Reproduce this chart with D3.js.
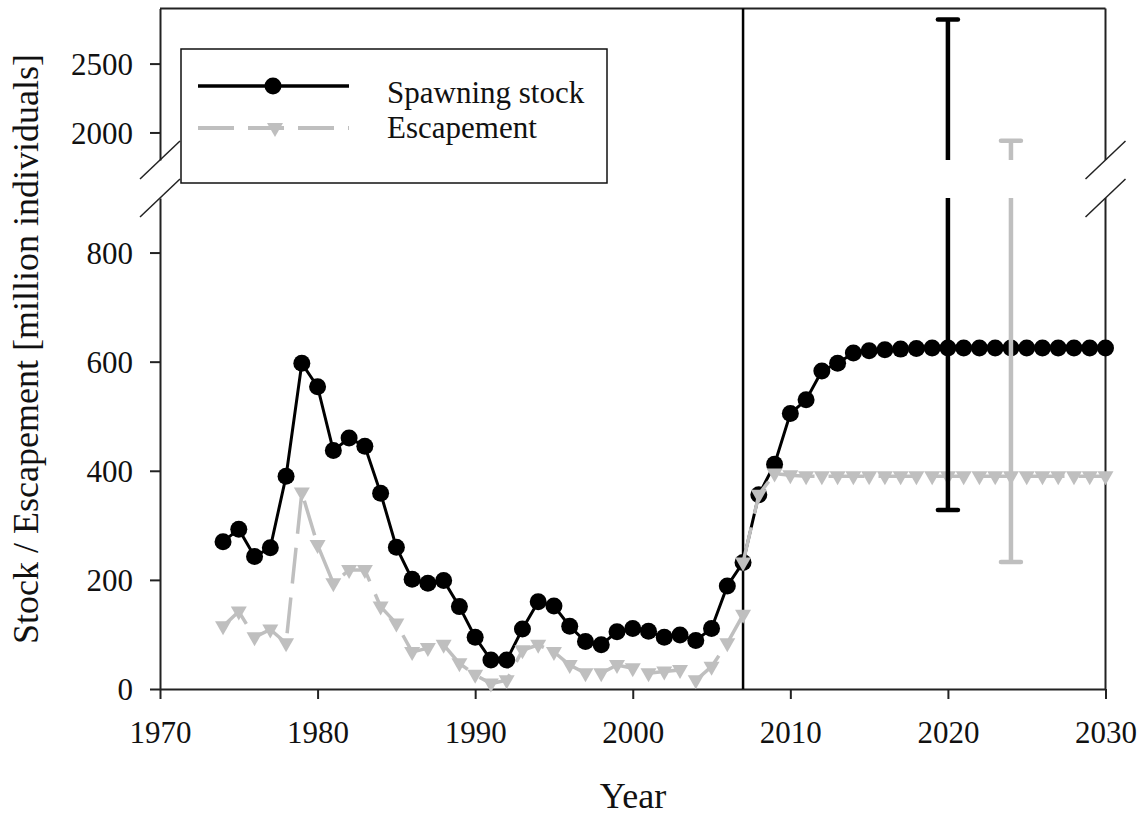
<!DOCTYPE html>
<html>
<head>
<meta charset="utf-8">
<script src="https://cdn.jsdelivr.net/npm/d3@7"></script>
<style>
  body { margin: 0; background: #fff; }
  svg text { font-family: "Liberation Serif", "Times New Roman", serif; fill: #111; }
</style>
</head>
<body>
<svg id="chart"></svg>
<script>
// spawning stock, 1974-2030 (observed up to 2007, projected after)
const stockYears = d3.range(1974, 2031);
const stockValues = [
  270, 293, 243, 259, 390, 597, 554, 437, 460, 445, 359, 260, 201, 194, 199, 151, 95, 53, 53, 110,
  160, 152, 115, 87, 81, 105, 111, 106, 95, 99, 89, 111, 189, 232, 356, 412, 505, 530, 583, 597,
  616, 620, 622, 623, 624, 625, 625, 625, 625, 625, 625, 625, 625, 625, 625, 625, 625
];

// escapement, observed 1974-2007
const escYears = d3.range(1974, 2008);
const escValues = [
  115, 142, 95, 109, 84, 360, 264, 194, 218, 218, 151, 120, 68, 75, 81, 47, 26, 10, 16, 71,
  81, 68, 44, 29, 29, 44, 38, 29, 32, 35, 16, 41, 84, 136
];

// escapement, projection 2007-2030
const escProjYears = d3.range(2007, 2031);
const escProjValues = [
  232, 356, 395, 392, 390, 390, 390, 390, 390, 390, 390, 390, 390, 390, 390, 390, 390, 390, 390, 390,
  390, 390, 390, 390
];

// error bars on the projections
const errYears = [2020, 2024];
const errLow = [328, 233];
const errHigh = [2820, 1940];
const errColors = ["#000", "#bfbfbf"];

const xTicks = [1970, 1980, 1990, 2000, 2010, 2020, 2030];
const yLowTicks = [0, 200, 400, 600, 800];
const yHighTicks = [2000, 2500];
const legendLabels = ["Spawning stock", "Escapement"];

const width = 1148;
const height = 816;
const plotLeft = 160, plotRight = 1105.5, plotTop = 8.5, plotBottom = 689;
const breakLow = 198, breakHigh = 160;
const gray = "#bfbfbf";

const svg = d3.select("#chart").attr("width", width).attr("height", height);

const x = d3.scaleLinear().domain([1970, 2030]).range([plotLeft, plotRight]);
const yLow = d3.scaleLinear().domain([0, 900]).range([plotBottom, breakLow]);
const yHigh = d3.scaleLinear().domain([1800, 2900]).range([breakHigh, plotTop]);

// Axes
const xAxis = svg.append("g")
  .attr("transform", `translate(0,${plotBottom})`)
  .call(d3.axisBottom(x).tickValues(xTicks).tickFormat(d3.format("d")).tickSize(10).tickSizeOuter(0));
xAxis.selectAll("text").attr("dy", 0).attr("y", 54).style("font-size", "31px");

const yLowAxis = svg.append("g")
  .attr("transform", `translate(${plotLeft},0)`)
  .call(d3.axisLeft(yLow).tickValues(yLowTicks).tickFormat(d3.format("d")).tickSize(10).tickSizeOuter(0));

const yHighAxis = svg.append("g")
  .attr("transform", `translate(${plotLeft},0)`)
  .call(d3.axisLeft(yHigh).tickValues(yHighTicks).tickFormat(d3.format("d")).tickSize(10).tickSizeOuter(0));

[yLowAxis, yHighAxis].forEach((g) => {
  g.selectAll("text").attr("x", -27).attr("dy", "0.34em").style("font-size", "31px");
});
[xAxis, yLowAxis, yHighAxis].forEach((g) => {
  g.selectAll("path, line").attr("stroke", "#222").attr("stroke-width", 2);
});

// top frame and right axis (broken too)
const frame = svg.append("g").attr("stroke", "#222").attr("stroke-width", 2).attr("fill", "none");
frame.append("line").attr("x1", plotLeft).attr("x2", plotRight).attr("y1", plotTop).attr("y2", plotTop);
frame.append("line").attr("x1", plotRight).attr("x2", plotRight).attr("y1", plotTop).attr("y2", breakHigh);
frame.append("line").attr("x1", plotRight).attr("x2", plotRight).attr("y1", breakLow).attr("y2", plotBottom);

// break marks
[plotLeft, plotRight].forEach((bx) => {
  [breakHigh, breakLow].forEach((by) => {
    svg.append("line")
      .attr("x1", bx - 20).attr("y1", by + 19)
      .attr("x2", bx + 20).attr("y2", by - 19)
      .attr("stroke", "#222").attr("stroke-width", 1.5);
  });
});

// end of observations
svg.append("line")
  .attr("x1", x(2007)).attr("x2", x(2007))
  .attr("y1", plotTop).attr("y2", plotBottom)
  .attr("stroke", "#000").attr("stroke-width", 2.5);

const line = d3.line().x((d) => x(d[0])).y((d) => yLow(d[1]));
const tri = "M-8,-5L8,-5L0,9Z";

// Spawning stock
const stock = stockYears.map((yr, i) => [yr, stockValues[i]]);
svg.append("path")
  .datum(stock)
  .attr("fill", "none")
  .attr("stroke", "#000")
  .attr("stroke-width", 3)
  .attr("d", line);

svg.selectAll(".dot")
  .data(stock)
  .enter()
  .append("circle")
  .attr("class", "dot")
  .attr("cx", (d) => x(d[0]))
  .attr("cy", (d) => yLow(d[1]))
  .attr("r", 8.5)
  .attr("fill", "#000");

// Escapement (observed + projected)
const esc = escYears.map((yr, i) => [yr, escValues[i]]);
const escProj = escProjYears.map((yr, i) => [yr, escProjValues[i]]);

[esc, escProj].forEach((series) => {
  svg.append("path")
    .datum(series)
    .attr("fill", "none")
    .attr("stroke", gray)
    .attr("stroke-width", 3.5)
    .attr("stroke-dasharray", "36,14")
    .attr("d", line);
});

[esc, escProj].forEach((series) => {
  svg.append("g")
    .selectAll("path")
    .data(series)
    .enter()
    .append("path")
    .attr("d", tri)
    .attr("transform", (d) => `translate(${x(d[0])},${yLow(d[1])})`)
    .attr("fill", gray);
});

// Error bars, split across the axis break
errYears.forEach((yr, i) => {
  const cx = x(yr);
  const g = svg.append("g").attr("stroke", errColors[i]).attr("stroke-width", 4.5);
  const lowY = yLow(errLow[i]);
  if (errHigh[i] > 1800) {
    g.append("line").attr("x1", cx).attr("x2", cx).attr("y1", lowY).attr("y2", yLow(900));
    g.append("line").attr("x1", cx).attr("x2", cx).attr("y1", yHigh(1800)).attr("y2", yHigh(errHigh[i]));
  } else {
    g.append("line").attr("x1", cx).attr("x2", cx).attr("y1", lowY).attr("y2", yLow(errHigh[i]));
  }
  const highY = errHigh[i] > 1800 ? yHigh(errHigh[i]) : yLow(errHigh[i]);
  [lowY, highY].forEach((cy) => {
    g.append("line")
      .attr("x1", cx - 10).attr("x2", cx + 10)
      .attr("y1", cy).attr("y2", cy)
      .attr("stroke-linecap", "round");
  });
});

// Legend
const legend = svg.append("g");
legend.append("rect")
  .attr("x", 181).attr("y", 49)
  .attr("width", 426).attr("height", 134)
  .attr("fill", "#fff")
  .attr("stroke", "#111")
  .attr("stroke-width", 1.5);

legend.append("line")
  .attr("x1", 198).attr("x2", 349).attr("y1", 86).attr("y2", 86)
  .attr("stroke", "#000").attr("stroke-width", 3.5);
legend.append("circle").attr("cx", 273).attr("cy", 86).attr("r", 8.5).attr("fill", "#000");

legend.append("line")
  .attr("x1", 198).attr("x2", 349).attr("y1", 128).attr("y2", 128)
  .attr("stroke", gray).attr("stroke-width", 4)
  .attr("stroke-dasharray", "36,14");
legend.append("path").attr("d", tri).attr("transform", "translate(275,128)").attr("fill", gray);

legend.selectAll("text")
  .data(legendLabels)
  .enter()
  .append("text")
  .attr("x", 387)
  .attr("y", (d, i) => 103 + i * 35)
  .style("font-size", "31px")
  .text((d) => d);

// Axis titles
svg.append("text")
  .attr("text-anchor", "middle")
  .attr("x", 633)
  .attr("y", 808)
  .style("font-size", "36px")
  .text("Year");

svg.append("text")
  .attr("text-anchor", "middle")
  .attr("transform", "translate(38,349) rotate(-90)")
  .style("font-size", "36px")
  .text("Stock / Escapement [million individuals]");
</script>
</body>
</html>
